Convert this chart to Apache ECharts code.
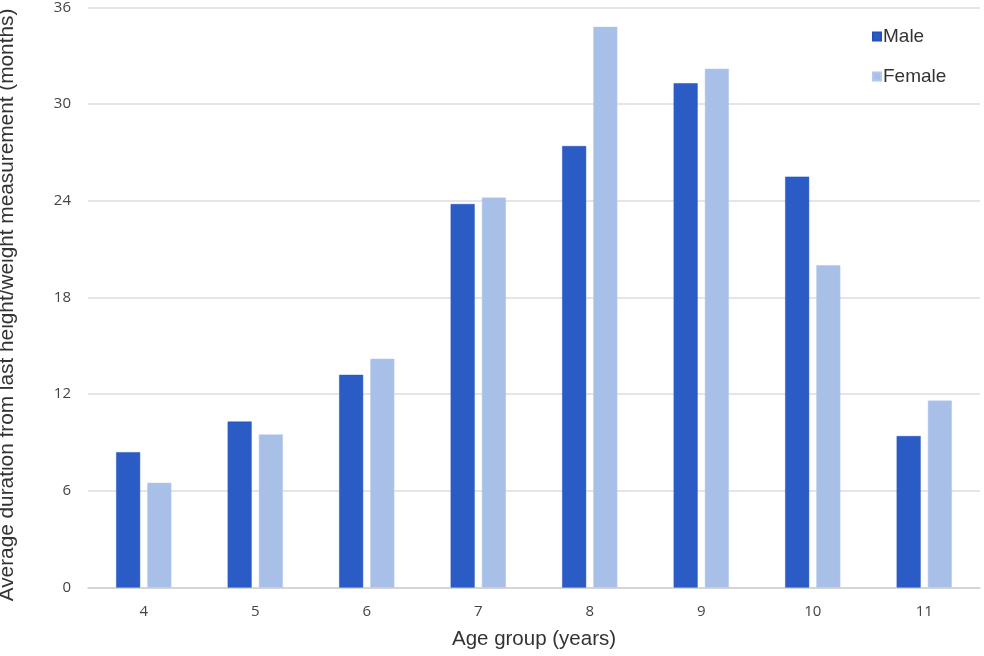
<!DOCTYPE html>
<html><head><meta charset="utf-8">
<script src="https://cdn.jsdelivr.net/npm/echarts@6/dist/echarts.min.js"></script>
<style>html,body{margin:0;padding:0;background:#fff}#c{width:984px;height:656px}</style>
</head><body><div id="c"></div>
<script>
const categories = ['4','5','6','7','8','9','10','11'];
const maleValues = [8.4, 10.3, 13.2, 23.8, 27.4, 31.3, 25.5, 9.4];
const femaleValues = [6.5, 9.5, 14.2, 24.2, 34.8, 32.2, 20.0, 11.6];
const yTicks = [0, 6, 12, 18, 24, 30, 36];

const chart = echarts.init(document.getElementById('c'));
const font = 'Open Sans, Liberation Sans, sans-serif';
const sans = 'Liberation Sans, Arial, sans-serif';
chart.setOption({
  animation: false,
  textStyle: {fontFamily: font},
  grid: {left: 88, right: 4, top: 7.5, bottom: 68.5, containLabel: false, outerBoundsMode: 'none'},
  legend: {
    orient: 'vertical', left: 867, top: 22, itemWidth: 8, itemHeight: 8, itemGap: 21,
    icon: 'rect',
    textStyle: {fontSize: 19, color: '#333', fontFamily: sans, padding: [0,0,0,-3]},
    data: ['Male', 'Female']
  },
  xAxis: {
    type: 'category', data: categories,
    name: 'Age group (years)', nameLocation: 'middle', nameGap: 41,
    nameTextStyle: {fontSize: 20.5, color: '#333', fontFamily: sans},
    axisLine: {show: true, lineStyle: {color: '#d0d0d0', width: 1.5}},
    axisTick: {show: false},
    axisLabel: {fontSize: 15, color: '#444', margin: 17}
  },
  yAxis: {
    type: 'value', min: yTicks[0], max: yTicks[yTicks.length-1], interval: 6,
    name: 'Average duration from last height/weight measurement (months)',
    nameLocation: 'middle', nameGap: 70, nameRotate: 90,
    nameTextStyle: {fontSize: 20.8, color: '#333', fontFamily: sans, padding: [0, 15, 0, 0]},
    axisLine: {show: false}, axisTick: {show: false},
    axisLabel: {fontSize: 15, color: '#444', margin: 17},
    splitLine: {lineStyle: {color: '#dcdcdc', width: 1.5}}
  },
  series: [
    {name: 'Male', type: 'bar', data: maleValues, barWidth: 24, barGap: '30%',
     itemStyle: {color: '#2b5cc6', borderColor: '#2452bd', borderWidth: 0.5}},
    {name: 'Female', type: 'bar', data: femaleValues, barWidth: 24,
     itemStyle: {color: '#a8c0e8', borderColor: '#b3c8ec', borderWidth: 0.5}}
  ]
});
</script></body></html>
